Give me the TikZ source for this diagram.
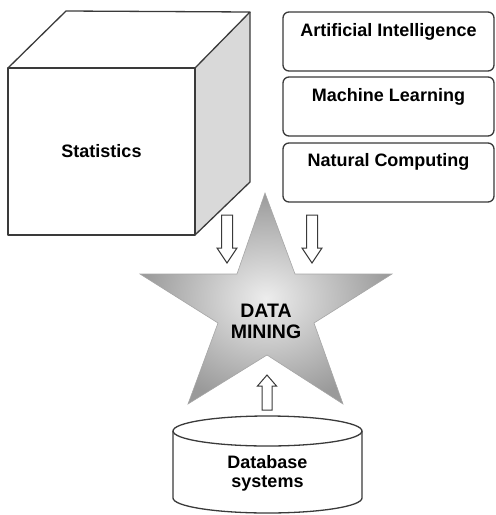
\documentclass[tikz,border=0pt]{standalone}
\usepackage{fontspec}
\setmainfont{Liberation Sans}
\usetikzlibrary{calc}
\definecolor{edge}{HTML}{3A3A3A}
\definecolor{sideface}{HTML}{D9D9D9}
\definecolor{starlight}{HTML}{EDEDED}
\definecolor{stardark}{HTML}{9A9A9A}
\begin{document}
\begin{tikzpicture}[x=1pt,y=-1pt,
  outline/.style={draw=edge, line width=1.3pt, line join=round},
  box/.style={outline, rounded corners=6pt, fill=white, minimum width=211pt, minimum height=59pt, inner sep=0pt},
  lbl/.style={font=\fontsize{18}{20}\selectfont\bfseries, text=black, align=center, inner sep=0pt},
  biglbl/.style={font=\fontsize{19.5}{22}\selectfont\bfseries, text=black, align=center, inner sep=0pt},
  blockarrow/.style={draw=edge, line width=1pt, fill=white, line join=miter}
]
\useasboundingbox (0,0) rectangle (496,515);

% ---- cube (Statistics)
\coordinate (fa) at (8,68);
\coordinate (fb) at (195,68);
\coordinate (fc) at (195,235);
\coordinate (fd) at (8,235);
\coordinate (ba) at (66,11);
\coordinate (bb) at (250,12);
\coordinate (bc) at (250,182);
\fill[white] (fa) -- (ba) -- (bb) -- (fb) -- cycle;
\fill[sideface] (fb) -- (bb) -- (bc) -- (fc) -- cycle;
\draw[outline] (fa) -- (ba) -- (bb) -- (fb);
\draw[outline] (bb) -- (bc) -- (fc);
\node[outline, fill=white, minimum width=187pt, minimum height=167pt, inner sep=0pt] (stats) at (101.5,151.5) {};
\node[lbl] at (stats.center) {Statistics};

% ---- boxes
\node[box] (ai) at (388.5,41.5) {};
\node[lbl] at ($(ai.north)+(0,21)$) {Artificial Intelligence};
\node[box] (ml) at (388.5,106.5) {};
\node[lbl] at ($(ml.north)+(0,21)$) {Machine Learning};
\node[box] (nc) at (388.5,172.5) {};
\node[lbl] at ($(nc.north)+(0,20)$) {Natural Computing};

% ---- star (Data Mining)
\path[draw=gray!70, line width=0.6pt, inner color=starlight, outer color=stardark, shading=radial]
  (265,193) -- (295,274) -- (392,274) -- (314,323) -- (343,404)
  -- (267,355) -- (188,404) -- (218,323) -- (140,274) -- (237,274) -- cycle;
\node[biglbl] (dm) at (266,321) {DATA\\[-1pt]MINING};

% ---- arrows
\draw[blockarrow] (221.5,215) -- (232.5,215) -- (232.5,248) -- (237,248) -- (227,263)
  -- (217,248) -- (221.5,248) -- cycle;
\draw[blockarrow] (306.5,215) -- (317.5,215) -- (317.5,248) -- (322,248) -- (312,263)
  -- (302,248) -- (306.5,248) -- cycle;
\draw[blockarrow] (262,410) -- (272,410) -- (272,386) -- (276.5,386) -- (267,375)
  -- (257.5,386) -- (262,386) -- cycle;

% ---- cylinder (Database systems)
\fill[white] (173,431) -- (173,498) arc[start angle=180, end angle=360, x radius=94.5, y radius=-15]
  -- (362,431) -- cycle;
\draw[outline] (173,431) -- (173,498) arc[start angle=180, end angle=360, x radius=94.5, y radius=-15]
  -- (362,431);
\draw[outline, fill=white] (267.5,431) ellipse[x radius=94.5, y radius=15];
\node[lbl] (db) at (267.5,473) {Database\\[-1pt]systems};
\end{tikzpicture}
\end{document}
